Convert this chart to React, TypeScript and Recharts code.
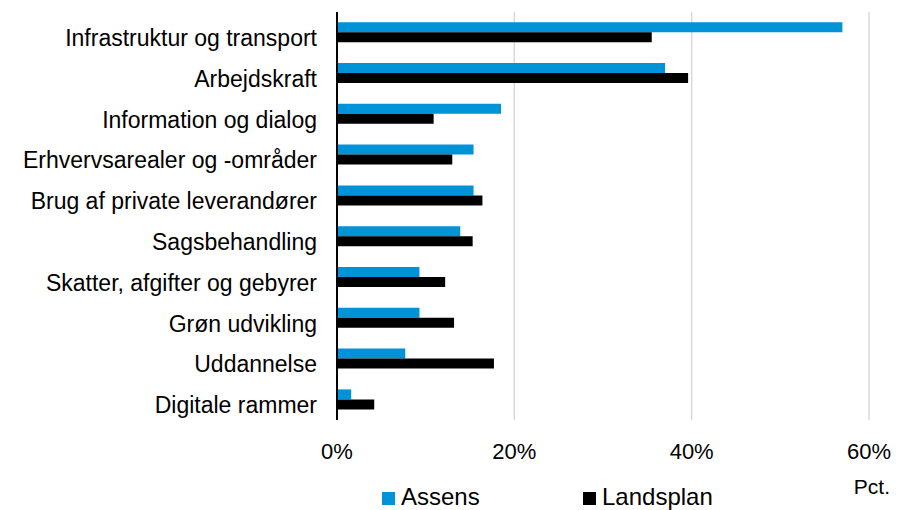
import { BarChart, Bar, XAxis, YAxis, CartesianGrid, Legend } from "recharts";

const categories = [
  "Infrastruktur og transport",
  "Arbejdskraft",
  "Information og dialog",
  "Erhvervsarealer og -områder",
  "Brug af private leverandører",
  "Sagsbehandling",
  "Skatter, afgifter og gebyrer",
  "Grøn udvikling",
  "Uddannelse",
  "Digitale rammer",
];

const assens = [57.0, 37.0, 18.5, 15.4, 15.4, 13.9, 9.3, 9.3, 7.7, 1.6];
const landsplan = [35.5, 39.6, 10.9, 13.0, 16.4, 15.3, 12.2, 13.2, 17.7, 4.2];

const xTicks = [0, 20, 40, 60];

const data = categories.map((name, i) => ({
  name,
  Assens: assens[i],
  Landsplan: landsplan[i],
}));

const FONT = "'Liberation Sans', Arial, sans-serif";
const BLUE = "#0093D7";

const CategoryTick = ({ x, y, payload }: any) => (
  <text x={x} y={y + 5.5} dy="0.355em" textAnchor="end" fontSize={23} fill="#000" fontFamily={FONT}>
    {payload.value}
  </text>
);

const PctTick = ({ x, y, payload }: any) => (
  <text x={x} y={y + 29} dy="0.355em" textAnchor="middle" fontSize={22} fill="#000" fontFamily={FONT}>
    {`${payload.value}%`}
  </text>
);

const LegendBox = () => {
  const items = [
    { label: "Assens", color: BLUE, left: 382 },
    { label: "Landsplan", color: "#000", left: 583 },
  ];
  return (
    <div style={{ position: "relative", width: 900, height: 30 }}>
      {items.map((it) => (
        <div key={it.label}>
          <div
            style={{
              position: "absolute",
              left: it.left,
              top: 12,
              width: 13,
              height: 13,
              background: it.color,
            }}
          />
          <div
            style={{
              position: "absolute",
              left: it.left + 19,
              top: 6.5,
              fontSize: 24,
              lineHeight: "20px",
              fontFamily: FONT,
              color: "#000",
              whiteSpace: "nowrap",
            }}
          >
            {it.label}
          </div>
        </div>
      ))}
    </div>
  );
};

export default function App() {
  return (
    <div style={{ position: "absolute", left: 0, top: 0, background: "#fff" }}>
      <BarChart
        width={900}
        height={510}
        data={data}
        layout="vertical"
        margin={{ top: 12, right: 31, left: 0, bottom: 0 }}
        barCategoryGap="25%"
        barGap={0}
      >
        <CartesianGrid horizontal={false} stroke="#D9D9D9" strokeWidth={1.5} />
        <XAxis
          type="number"
          domain={[0, 60]}
          ticks={xTicks}
          axisLine={false}
          tickLine={false}
          tickSize={0}
          height={60}
          tick={<PctTick />}
          label={{
            content: ({ viewBox }: any) => (
              <text
                x={viewBox.x + viewBox.width + 21}
                y={viewBox.y + 74}
                textAnchor="end"
                fontSize={21}
                fill="#000"
                fontFamily={FONT}
              >
                Pct.
              </text>
            ),
          }}
        />
        <YAxis
          type="category"
          dataKey="name"
          width={337}
          axisLine={{ stroke: "#000", strokeWidth: 2 }}
          tickLine={false}
          tickSize={0}
          tickMargin={20}
          tick={<CategoryTick />}
          interval={0}
        />
        <Legend verticalAlign="bottom" align="left" wrapperStyle={{ left: 0 }} content={<LegendBox />} />
        <Bar dataKey="Assens" fill={BLUE} isAnimationActive={false} />
        <Bar dataKey="Landsplan" fill="#000" isAnimationActive={false} />
      </BarChart>
    </div>
  );
}
